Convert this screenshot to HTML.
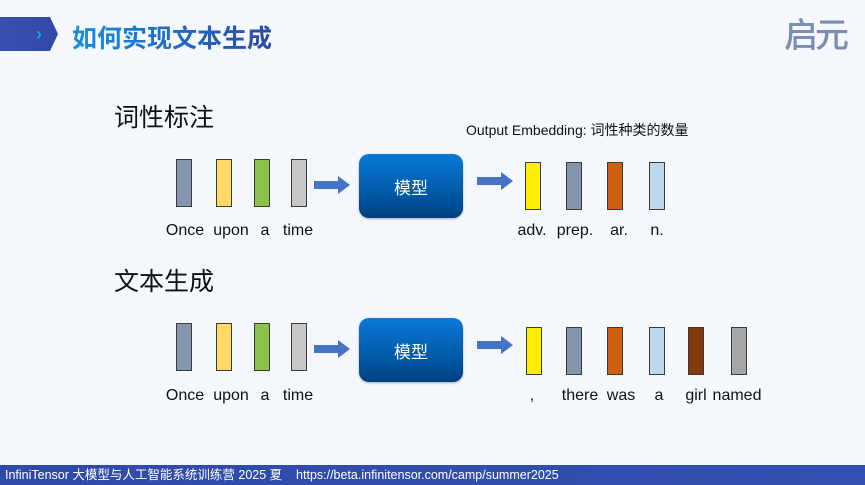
<!DOCTYPE html>
<html><head><meta charset="utf-8"><style>
body{margin:0;width:865px;height:485px;overflow:hidden;background:#f4f7fb;position:relative;font-family:"Liberation Sans","Noto Sans CJK SC",sans-serif}
.a{position:absolute}
.b{position:absolute;width:14px;height:46px;border:1px solid #3a3a3a}
.lbl{position:absolute;font-size:16px;color:#111;transform:translateX(-50%);white-space:nowrap}
.m{position:absolute;width:104px;height:64px;border-radius:10px;background:linear-gradient(#0a78d8,#005aa8 60%,#003f80);color:#fff;font-size:17px;display:flex;align-items:center;justify-content:center;box-shadow:0 1px 2px rgba(0,0,0,.3)}
</style></head><body>
<div class="a" style="left:0;top:17px;width:58px;height:34px;background:linear-gradient(90deg,#3a4fb0,#3448a8);clip-path:polygon(0 0,50px 0,58px 50%,50px 100%,0 100%)"></div>
<div class="a" style="left:36px;top:24px;color:#1aa0f0;font-size:18px;font-weight:bold">›</div>
<div class="a" style="left:72px;top:19px;font-size:25px;font-weight:bold;color:#1a7fd6;background:linear-gradient(90deg,#168ee0,#2a4aa8);-webkit-background-clip:text;background-clip:text;-webkit-text-fill-color:transparent;font-family:'Noto Sans CJK SC',sans-serif">如何实现文本生成</div>
<div class="a" style="left:784px;top:8px;font-size:34px;font-weight:500;color:#7a8eb4;font-family:'Noto Sans CJK SC',sans-serif;letter-spacing:-3px">启元</div>

<div class="a" style="left:114px;top:98px;font-size:25px;color:#111;font-family:'Noto Sans CJK SC',sans-serif">词性标注</div>
<div class="a" style="left:466px;top:120px;font-size:14px;color:#111">Output Embedding: 词性种类的数量</div>
<div class="a" style="left:114px;top:262px;font-size:25px;color:#111;font-family:'Noto Sans CJK SC',sans-serif">文本生成</div>

<div class="b" style="left:176px;top:159px;background:#8496ae"></div>
<div class="b" style="left:216px;top:159px;background:#ffd966"></div>
<div class="b" style="left:254px;top:159px;background:#8bc34a"></div>
<div class="b" style="left:291px;top:159px;background:#c8c8c8"></div>
<svg class="a" style="left:314px;top:176px" width="38" height="18"><polygon points="0,5 24,5 24,0 36,9 24,18 24,13 0,13" fill="#4472c4"/></svg>
<div class="m" style="left:359px;top:154px">模型</div>
<svg class="a" style="left:477px;top:172px" width="38" height="18"><polygon points="0,5 24,5 24,0 36,9 24,18 24,13 0,13" fill="#4472c4"/></svg>
<div class="b" style="left:525px;top:162px;background:#ffee00"></div>
<div class="b" style="left:566px;top:162px;background:#8496ae"></div>
<div class="b" style="left:607px;top:162px;background:#d06010"></div>
<div class="b" style="left:649px;top:162px;background:#bdd7ee"></div>
<div class="lbl" style="left:185px;top:222px">Once</div>
<div class="lbl" style="left:231px;top:222px">upon</div>
<div class="lbl" style="left:265px;top:222px">a</div>
<div class="lbl" style="left:298px;top:222px">time</div>
<div class="lbl" style="left:532px;top:222px">adv.</div>
<div class="lbl" style="left:575px;top:222px">prep.</div>
<div class="lbl" style="left:619px;top:222px">ar.</div>
<div class="lbl" style="left:657px;top:222px">n.</div>

<div class="b" style="left:176px;top:323px;background:#8496ae"></div>
<div class="b" style="left:216px;top:323px;background:#ffd966"></div>
<div class="b" style="left:254px;top:323px;background:#8bc34a"></div>
<div class="b" style="left:291px;top:323px;background:#c8c8c8"></div>
<svg class="a" style="left:314px;top:340px" width="38" height="18"><polygon points="0,5 24,5 24,0 36,9 24,18 24,13 0,13" fill="#4472c4"/></svg>
<div class="m" style="left:359px;top:318px">模型</div>
<svg class="a" style="left:477px;top:336px" width="38" height="18"><polygon points="0,5 24,5 24,0 36,9 24,18 24,13 0,13" fill="#4472c4"/></svg>
<div class="b" style="left:526px;top:327px;background:#ffee00"></div>
<div class="b" style="left:566px;top:327px;background:#8496ae"></div>
<div class="b" style="left:607px;top:327px;background:#d06010"></div>
<div class="b" style="left:649px;top:327px;background:#bdd7ee"></div>
<div class="b" style="left:688px;top:327px;background:#843c0c"></div>
<div class="b" style="left:731px;top:327px;background:#a6a6a6"></div>
<div class="lbl" style="left:185px;top:387px">Once</div>
<div class="lbl" style="left:231px;top:387px">upon</div>
<div class="lbl" style="left:265px;top:387px">a</div>
<div class="lbl" style="left:298px;top:387px">time</div>
<div class="lbl" style="left:532px;top:387px">,</div>
<div class="lbl" style="left:580px;top:387px">there</div>
<div class="lbl" style="left:621px;top:387px">was</div>
<div class="lbl" style="left:659px;top:387px">a</div>
<div class="lbl" style="left:696px;top:387px">girl</div>
<div class="lbl" style="left:737px;top:387px">named</div>

<div class="a" style="left:0;top:465px;width:865px;height:20px;background:linear-gradient(90deg,#2f4aa8,#3450b0);color:#fff;font-size:12.5px;line-height:20px;padding-left:5px;white-space:nowrap">InfiniTensor 大模型与人工智能系统训练营 2025 夏 &nbsp;&nbsp; https://beta.infinitensor.com/camp/summer2025</div>
</body></html>
